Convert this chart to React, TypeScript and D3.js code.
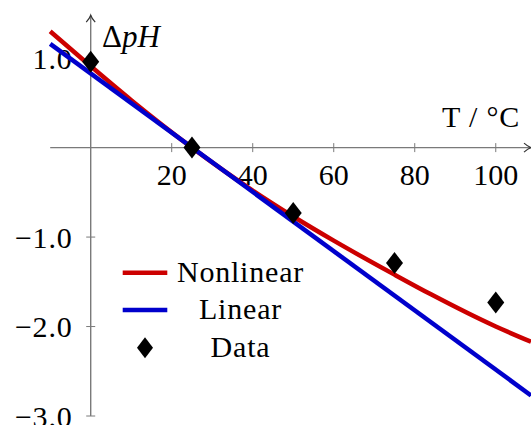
import React from "react";
import * as d3 from "d3";

const dataT = [0, 25, 50, 75, 100];
const dataPH = [0.96, 0, -0.73, -1.29, -1.73];

const nonlinT = [-10, 0, 10, 25, 40, 50, 60, 75, 84, 100, 108.7];
const nonlinPH = [1.3, 0.91, 0.53, 0, -0.48, -0.77, -1.04, -1.42, -1.64, -2.0, -2.17];

const linT = [-10, 108.7];
const linPH = [1.16, -2.77];

const xTicks = [20, 40, 60, 80, 100];
const yTicks = [1, -1, -2, -3];
const yTickLabels = ["1.0", "\u22121.0", "\u22122.0", "\u22123.0"];

const legendNames = ["Nonlinear", "Linear", "Data"];

const W = 531;
const H = 425;
const RED = "#cc0000";
const BLUE = "#0000cc";
const AXIS = "#7a7a7a";
const FONT = "'Liberation Serif', 'Times New Roman', serif";

export default function App() {
  const x = d3.scaleLinear().domain([-10, 108.7]).range([50.2, 531]);
  const y = d3.scaleLinear().domain([-3, 1.48]).range([416, 15.2]);
  const x0 = x(0);
  const y0 = y(0);
  const yTop = y(1.48);

  const line = d3
    .line<[number, number]>()
    .x((d) => x(d[0]))
    .y((d) => y(d[1]))
    .curve(d3.curveMonotoneX);

  const nonlin = nonlinT.map((t, i) => [t, nonlinPH[i]] as [number, number]);
  const lin = linT.map((t, i) => [t, linPH[i]] as [number, number]);

  const diamond = (cx: number, cy: number, hw = 8.5, hh = 11) =>
    `M ${cx} ${cy - hh} L ${cx + hw} ${cy} L ${cx} ${cy + hh} L ${cx - hw} ${cy} Z`;

  const legendX = 122.7;
  const legendRowsY = [272.7, 310, 347.7];

  return (
    <svg
      width={W}
      height={H}
      style={{ position: "fixed", left: 0, top: 0, background: "#fff" }}
      fontFamily={FONT}
    >
      <rect x={0} y={0} width={W} height={H} fill="#fff" />
      {/* axes */}
      <line x1={x(-10)} x2={W} y1={y0} y2={y0} stroke={AXIS} strokeWidth={1.4} />
      <path
        d={`M ${W - 7} ${y0 - 4.5} Q ${W - 3} ${y0 - 1} ${W} ${y0} Q ${W - 3} ${y0 + 1} ${W - 7} ${y0 + 4.5}`}
        fill="none"
        stroke="#333"
        strokeWidth={1.2}
      />
      <line x1={x0} x2={x0} y1={y(-3)} y2={yTop} stroke={AXIS} strokeWidth={1.4} />
      <path
        d={`M ${x0 - 4.5} ${yTop + 7} Q ${x0 - 1} ${yTop + 3} ${x0} ${yTop} Q ${x0 + 1} ${yTop + 3} ${x0 + 4.5} ${yTop + 7}`}
        fill="none"
        stroke="#333"
        strokeWidth={1.2}
      />
      {xTicks.map((t) => (
        <g key={"xt" + t}>
          <line x1={x(t)} x2={x(t)} y1={y0 - 4.5} y2={y0 + 4.5} stroke={AXIS} strokeWidth={1} />
          <text x={x(t)} y={y0 + 37} textAnchor="middle" fontSize={30} fill="#000">
            {t}
          </text>
        </g>
      ))}
      {yTicks.map((v, i) => (
        <g key={"yt" + v}>
          <line x1={x0 - 4.5} x2={x0 + 4.5} y1={y(v)} y2={y(v)} stroke={AXIS} strokeWidth={1} />
          <text x={72.5} y={y(v) + 10.5} textAnchor="end" fontSize={30} fill="#000" letterSpacing={0.8}>
            {yTickLabels[i]}
          </text>
        </g>
      ))}
      {/* axis labels */}
      <text x={102} y={46.7} fontSize={31} fill="#000">
        {"\u0394"}
        <tspan fontStyle="italic">pH</tspan>
      </text>
      <text x={520} y={126.7} textAnchor="end" fontSize={30} fill="#000" letterSpacing={0.8}>
        {"T / \u00B0C"}
      </text>
      {/* curves */}
      <path d={line(nonlin) || ""} fill="none" stroke={RED} strokeWidth={4.5} />
      <path d={line(lin) || ""} fill="none" stroke={BLUE} strokeWidth={4.5} />
      {dataT.map((t, i) => (
        <path key={"d" + t} d={diamond(x(t), y(dataPH[i]))} fill="#000" />
      ))}
      {/* legend */}
      <line x1={legendX} x2={legendX + 44.6} y1={legendRowsY[0]} y2={legendRowsY[0]} stroke={RED} strokeWidth={4.5} />
      <line x1={legendX} x2={legendX + 44.6} y1={legendRowsY[1]} y2={legendRowsY[1]} stroke={BLUE} strokeWidth={4.5} />
      <path d={diamond(legendX + 22.3, legendRowsY[2], 8, 10.5)} fill="#000" />
      {legendNames.map((n, i) => (
        <text key={n} x={240.5} y={legendRowsY[i] + 9} textAnchor="middle" fontSize={30} fill="#000" letterSpacing={0.8}>
          {n}
        </text>
      ))}
    </svg>
  );
}
